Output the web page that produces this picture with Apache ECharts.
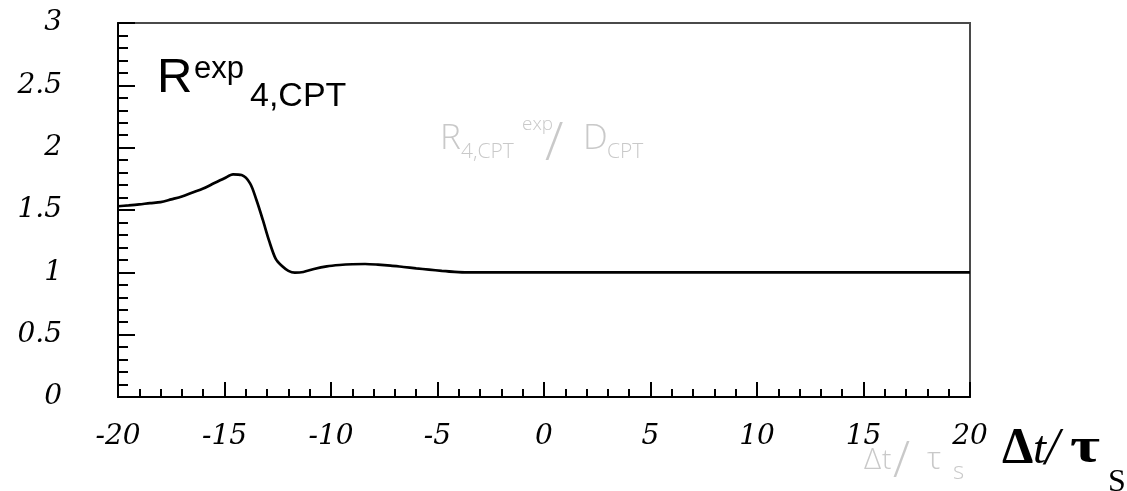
<!DOCTYPE html>
<html>
<head>
<meta charset="utf-8">
<script src="https://cdn.jsdelivr.net/npm/echarts@6/dist/echarts.min.js"></script>
<style>
  html, body { margin: 0; padding: 0; background: #fff; }
  #chart { width: 1127px; height: 491px; }
</style>
</head>
<body>
<div id="chart"></div>
<script>
// Time difference in units of the K_S lifetime
const dtValues = [
  -20, -19.5, -19, -18.5, -18, -17.5, -17, -16.5, -16, -15.5, -15, -14.6, -14.2,
  -13.8, -13.5, -13.2, -12.9, -12.6, -12.3, -12.0, -11.7, -11.3, -10.8, -10.2,
  -9.6, -9.0, -8.4, -7.8, -7.2, -6.6, -6.0, -5.4, -4.8, -4.2, -3.6, -3.0,
  -2, 0, 5, 10, 15, 20
];
// Ratio R_4,CPT^exp / D_CPT
const ratioValues = [
  1.530, 1.537, 1.545, 1.555, 1.563, 1.585, 1.608, 1.640, 1.672, 1.714, 1.755, 1.786, 1.780,
  1.714, 1.580, 1.420, 1.250, 1.110, 1.050, 1.012, 0.998, 1.003, 1.027, 1.048,
  1.059, 1.065, 1.067, 1.062, 1.054, 1.043, 1.032, 1.022, 1.012, 1.004, 1.000, 1.000,
  1.000, 1.000, 1.000, 1.000, 1.000, 1.000
];
const xTicks = { min: -20, max: 20, step: 5 };
const yTicks = { min: 0, max: 3, step: 0.5 };

const points = dtValues.map((x, i) => [x, ratioValues[i]]);

const serif = "'Liberation Serif', 'Times New Roman', serif";
const tickFont = "'DejaVu Serif', serif";
const sans = "'Liberation Sans', Arial, sans-serif";
const thin = "'Open Sans', 'Liberation Sans', sans-serif";
const grey = '#c9c9c9';

// place a text by its baseline (middle-aligned text sits ~0.25em above baseline)
function txt(x, baseline, text, size, family, extra, sx) {
  return {
    type: 'text',
    x: x,
    y: baseline - 0.25 * size,
    scaleX: sx || 1,
    style: Object.assign({
      text: text,
      font: size + 'px ' + family,
      fill: '#000',
      align: 'left',
      verticalAlign: 'middle'
    }, extra || {})
  };
}
function greyTxt(x, baseline, text, size, sx) {
  return txt(x, baseline, text, size, thin, { fill: grey, font: '300 ' + size + 'px ' + thin }, sx);
}

const chart = echarts.init(document.getElementById('chart'), null, { renderer: 'canvas' });

chart.setOption({
  animation: false,
  backgroundColor: '#fff',
  grid: {
    left: 118, right: 157, top: 23, bottom: 94,
    show: true, borderColor: '#4a4a4a', borderWidth: 2, backgroundColor: 'transparent'
  },
  xAxis: {
    type: 'value',
    min: xTicks.min, max: xTicks.max, interval: xTicks.step,
    axisLine: { show: true, onZero: false, lineStyle: { color: '#000', width: 2 } },
    axisTick: { show: true, inside: true, length: 15, lineStyle: { color: '#000', width: 2 } },
    minorTick: { show: true, splitNumber: 5, length: 8, lineStyle: { color: '#000', width: 2 } },
    splitLine: { show: false },
    axisLabel: {
      margin: 26, color: '#000', fontFamily: tickFont, fontStyle: 'italic', fontSize: 28,
      formatter: v => String(v)
    }
  },
  yAxis: {
    type: 'value',
    min: yTicks.min, max: yTicks.max, interval: yTicks.step,
    axisLine: { show: true, onZero: false, lineStyle: { color: '#000', width: 2 } },
    axisTick: { show: true, inside: true, length: 17, lineStyle: { color: '#000', width: 2 } },
    minorTick: { show: true, splitNumber: 5, length: 10, lineStyle: { color: '#000', width: 2 } },
    splitLine: { show: false },
    axisLabel: {
      margin: 56, color: '#000', fontFamily: tickFont, fontStyle: 'italic', fontSize: 28,
      formatter: v => String(v)
    }
  },
  series: [{
    type: 'line',
    data: points,
    smooth: 0.3,
    showSymbol: false,
    lineStyle: { color: '#000', width: 2.7 },
    z: 3
  }],
  graphic: [
    // R^exp_4,CPT
    txt(157, 91, 'R', 49, sans),
    txt(194, 77, 'exp', 31, sans),
    txt(250, 105, '4,CPT', 34, sans),
    // grey inner label R_4,CPT^exp / D_CPT
    greyTxt(440, 148, 'R', 35),
    greyTxt(461, 157, '4,CPT', 20, 1.05),
    greyTxt(522, 129, 'exp', 18, 1.05),
    greyTxt(545, 158, '/', 54),
    greyTxt(583, 148, 'D', 35),
    greyTxt(607, 157, 'CPT', 20, 1.05),
    // grey axis caption Δt / τs
    greyTxt(864, 468, 'Δ', 30),
    greyTxt(882, 468, 't', 28),
    greyTxt(893, 475, '/', 50),
    greyTxt(927, 468, 'τ', 32),
    greyTxt(953, 478, 's', 24),
    // black axis caption Δt/τS
    txt(1002, 462, 'Δ', 50, serif, { font: 'bold 50px ' + serif }),
    txt(1033, 462, 't', 47, serif, { font: 'italic 47px ' + serif }),
    txt(1045, 463, '/', 52, serif, { font: 'italic 52px ' + serif }),
    txt(1070, 462, 'τ', 50, serif, { font: 'bold 50px ' + serif }, 1.3),
    txt(1108, 491, 'S', 32, serif)
  ]
});
</script>
</body>
</html>
